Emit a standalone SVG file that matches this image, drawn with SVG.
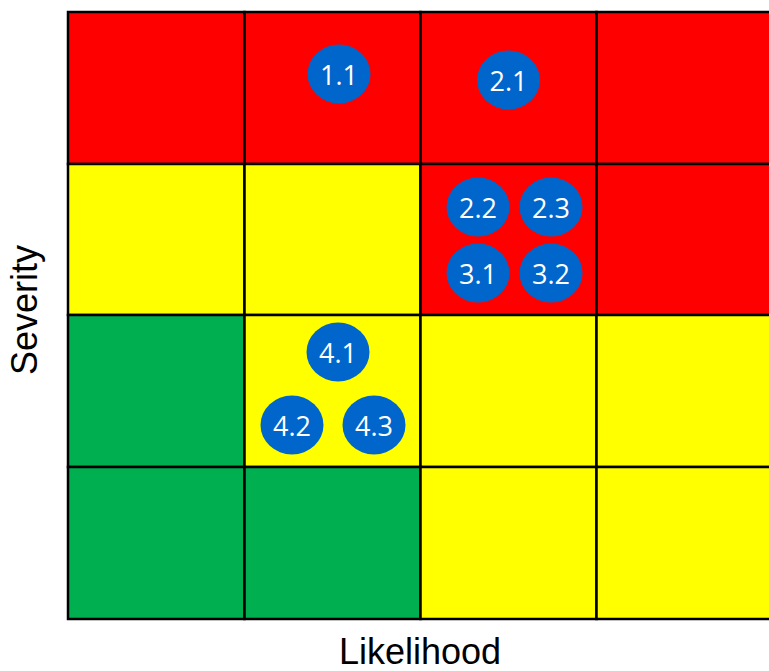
<svg xmlns="http://www.w3.org/2000/svg" width="769" height="671" viewBox="0 0 769 671">
<style>
.c{stroke:#000;stroke-width:2.5}
.r{fill:#FF0000}.y{fill:#FFFF00}.g{fill:#00B050}
.b{fill:#0066CC}
.t{font-family:"Open Sans","Liberation Sans",sans-serif;font-size:27px;fill:#fff;text-anchor:middle}
.ax{font-family:"Liberation Sans",Arial,sans-serif;font-size:36px;fill:#000;text-anchor:middle}
</style>
<rect width="769" height="671" fill="#fff"/>
<g id="grid">
<rect class="c r" x="68" y="12" width="176.5" height="152"/>
<rect class="c r" x="244.5" y="12" width="176" height="152"/>
<rect class="c r" x="420.5" y="12" width="176" height="152"/>
<rect class="c r" x="596.5" y="12" width="176" height="152"/>
<rect class="c y" x="68" y="164" width="176.5" height="151"/>
<rect class="c y" x="244.5" y="164" width="176" height="151"/>
<rect class="c r" x="420.5" y="164" width="176" height="151"/>
<rect class="c r" x="596.5" y="164" width="176" height="151"/>
<rect class="c g" x="68" y="315" width="176.5" height="152"/>
<rect class="c y" x="244.5" y="315" width="176" height="152"/>
<rect class="c y" x="420.5" y="315" width="176" height="152"/>
<rect class="c y" x="596.5" y="315" width="176" height="152"/>
<rect class="c g" x="68" y="467" width="176.5" height="152"/>
<rect class="c g" x="244.5" y="467" width="176" height="152"/>
<rect class="c y" x="420.5" y="467" width="176" height="152"/>
<rect class="c y" x="596.5" y="467" width="176" height="152"/>
</g>
<g id="n1_1"><ellipse class="b" cx="339" cy="74" rx="31.5" ry="29.5"/><text class="t" x="339" y="84.5">1.1</text></g>
<g id="n2_1"><ellipse class="b" cx="508.5" cy="80" rx="31.5" ry="29.5"/><text class="t" x="508.5" y="90.5">2.1</text></g>
<g id="n2_2"><ellipse class="b" cx="478" cy="207" rx="31.5" ry="29.5"/><text class="t" x="478" y="217.5">2.2</text></g>
<g id="n2_3"><ellipse class="b" cx="551" cy="207" rx="31.5" ry="29.5"/><text class="t" x="551" y="217.5">2.3</text></g>
<g id="n3_1"><ellipse class="b" cx="478" cy="273" rx="31.5" ry="29.5"/><text class="t" x="478" y="283.5">3.1</text></g>
<g id="n3_2"><ellipse class="b" cx="551" cy="273" rx="31.5" ry="29.5"/><text class="t" x="551" y="283.5">3.2</text></g>
<g id="n4_1"><ellipse class="b" cx="338" cy="352" rx="31.5" ry="29.5"/><text class="t" x="338" y="362.5">4.1</text></g>
<g id="n4_2"><ellipse class="b" cx="292" cy="425" rx="31.5" ry="29.5"/><text class="t" x="292" y="435.5">4.2</text></g>
<g id="n4_3"><ellipse class="b" cx="374" cy="425" rx="31.5" ry="29.5"/><text class="t" x="374" y="435.5">4.3</text></g>
<g id="labels">
<text class="ax" x="420" y="664">Likelihood</text>
<text class="ax" transform="translate(37,310) rotate(-90)">Severity</text>
</g>
</svg>
